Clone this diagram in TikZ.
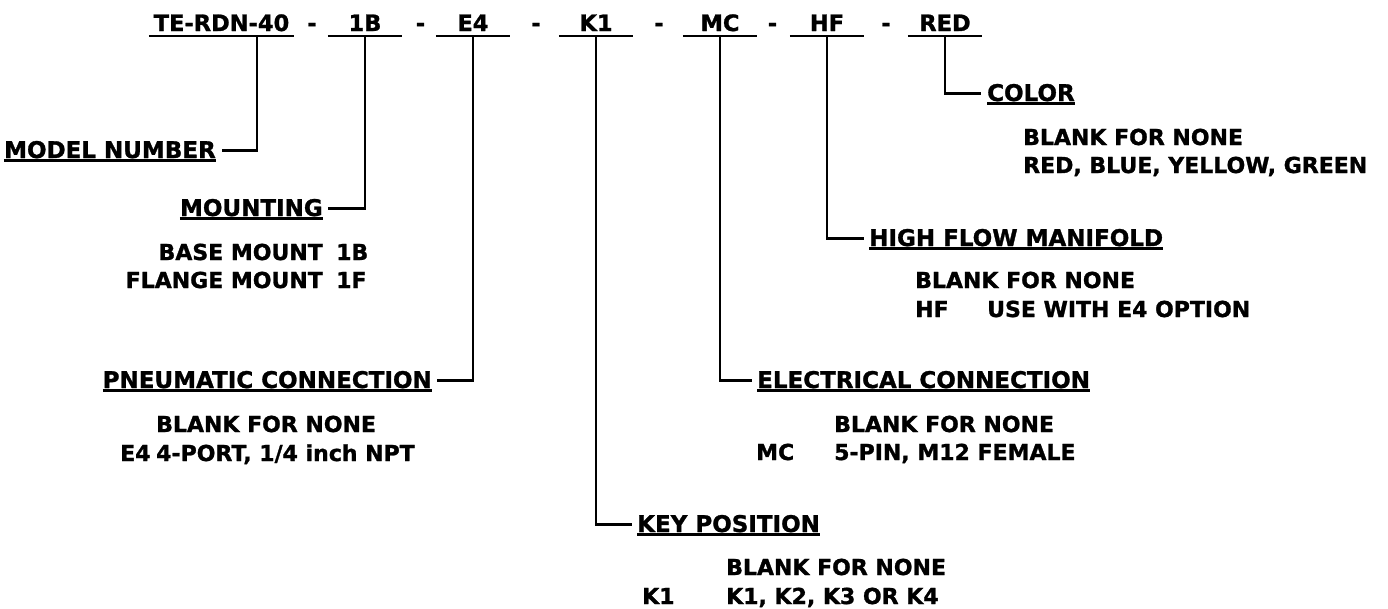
\documentclass[tikz,border=0pt]{standalone}
\usepackage{fontspec}
\setmainfont{DejaVu Sans}[BoldFeatures={FakeBold=1.2}]
\usepackage{tikz}
\usetikzlibrary{calc}

\tikzset{
	code/.style={font=\bfseries\fontsize{22.5}{27}\selectfont, inner sep=0pt, text depth=5pt, minimum width=74pt, anchor=base},
	hyph/.style={font=\bfseries\fontsize{22.5}{27}\selectfont, inner sep=0pt, anchor=base},
	head/.style={font=\bfseries\fontsize{23}{28}\selectfont, inner sep=0pt, text depth=2.5pt},
	desc/.style={font=\bfseries\fontsize{22}{26}\selectfont, inner sep=0pt, anchor=base west},
	uline/.style={line width=2.5pt},
	conn/.style={line width=2.5pt},
}

\begin{document}
\begin{tikzpicture}[x=1pt, y=-1pt]
		%%%%% START %%%%%
		\useasboundingbox (0, 0) rectangle (1388, 608);
		
		% part number
		\node[code, minimum width=145pt] (tm) at (221.5, 31) {TE-RDN-40};
		\node[code] (mnt) at (365, 31) {1B};
		\node[code] (pnc) at (473, 31) {E4};
		\node[code] (key) at (596, 31) {K1};
		\node[code] (elc) at (720, 31) {MC};
		\node[code] (hfm) at (827, 31) {HF};
		\node[code] (clr) at (945, 31) {RED};
		
		\node[hyph] (d1) at (312, 31) {-};
		\node[hyph] (d2) at (420.5, 31) {-};
		\node[hyph] (d3) at (536, 31) {-};
		\node[hyph] (d4) at (659, 31) {-};
		\node[hyph] (d5) at (772.5, 31) {-};
		\node[hyph] (d6) at (886, 31) {-};
		
		\foreach \n in {tm, mnt, pnc, key, elc, hfm, clr}
			\draw[uline] (\n.south west) -- (\n.south east);
		
		% headings
		\node[head, anchor=base east] (mdlh) at (216, 158) {MODEL NUMBER};
		\node[head, anchor=base east] (mnth) at (323, 216) {MOUNTING};
		\node[head, anchor=base east] (pnch) at (432, 388) {PNEUMATIC CONNECTION};
		\node[head, anchor=base west] (keyh) at (637, 532) {KEY POSITION};
		\node[head, anchor=base west] (elch) at (757, 388) {ELECTRICAL CONNECTION};
		\node[head, anchor=base west] (hfmh) at (869, 246) {HIGH FLOW MANIFOLD};
		\node[head, anchor=base west] (clrh) at (987, 101) {COLOR};
		
		\foreach \n in {mdlh, mnth, pnch, keyh, elch, hfmh, clrh}
			\draw[uline] (\n.south west) -- (\n.south east);
		
		% leaders
		\draw[conn] ([xshift=35.5pt]tm.south) |- ([xshift=6pt]mdlh.east);
		\draw[conn] (mnt.south) |- ([xshift=5pt]mnth.east);
		\draw[conn] (pnc.south) |- ([xshift=5pt]pnch.east);
		\draw[conn] (key.south) |- ([xshift=-5pt]keyh.west);
		\draw[conn] (elc.south) |- ([xshift=-5pt]elch.west);
		\draw[conn] (hfm.south) |- ([xshift=-5pt]hfmh.west);
		\draw[conn] (clr.south) |- ([xshift=-6pt]clrh.west);
		
		% options
		\node[desc] (clr1) at (1023, 145) {BLANK FOR NONE};
		\node[desc] (clr2) at (1023, 173) {RED, BLUE, YELLOW, GREEN};
		
		\node[desc] (hfm1) at (915, 288) {BLANK FOR NONE};
		\node[desc] (hfm2) at (915, 317) {HF};
		\node[desc] (hfm3) at (987, 317) {USE WITH E4 OPTION};
		
		\node[desc, anchor=base east] (mnt1) at (323, 260) {BASE MOUNT};
		\node[desc] (mnt2) at (336, 260) {1B};
		\node[desc, anchor=base east] (mnt3) at (323, 288) {FLANGE MOUNT};
		\node[desc] (mnt4) at (336, 288) {1F};
		
		\node[desc] (pnc1) at (156, 432) {BLANK FOR NONE};
		\node[desc] (pnc2) at (120, 461) {E4};
		\node[desc] (pnc3) at (156, 461) {4-PORT, 1/4 inch NPT};
		
		\node[desc] (elc1) at (834, 432) {BLANK FOR NONE};
		\node[desc] (elc2) at (756, 460) {MC};
		\node[desc] (elc3) at (834, 460) {5-PIN, M12 FEMALE};
		
		\node[desc] (key1) at (726, 575) {BLANK FOR NONE};
		\node[desc] (key2) at (642, 604) {K1};
		\node[desc] (key3) at (726, 604) {K1, K2, K3 OR K4};
		
		%%%%% END %%%%%
	\end{tikzpicture}
\end{document}
